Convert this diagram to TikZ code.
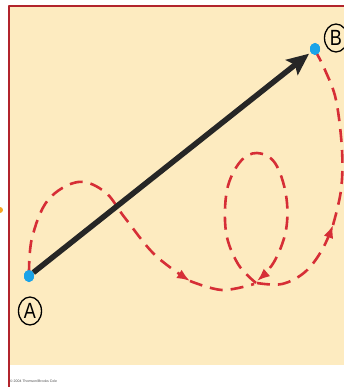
\documentclass[tikz,border=0pt]{standalone}
\usepackage{fontspec}
\setsansfont{Liberation Sans}
\usetikzlibrary{arrows.meta,shapes.geometric}
\definecolor{paper}{RGB}{253,235,192}
\definecolor{frame}{RGB}{178,36,44}
\definecolor{pathred}{RGB}{214,46,54}
\definecolor{dotblue}{RGB}{26,163,232}
\definecolor{speck}{RGB}{245,166,35}

\begin{document}
\begin{tikzpicture}[
    x=1pt,
    y=-1pt,
    line cap=round,
    line join=round,
    font=\sffamily,
    dot/.style={ellipse, fill=dotblue, minimum width=10pt, minimum height=12pt, inner sep=0pt},
    tag/.style={draw=black, line width=1.3pt, ellipse, minimum width=23pt, minimum height=28pt, inner sep=0pt, font=\fontsize{22}{22}\selectfont\sffamily},
    disp/.style={draw=black!85, line width=5.5pt, line cap=butt, -{Stealth[length=22pt,width=19pt,inset=4pt]}},
    route/.style={draw=pathred, line width=2.6pt, line cap=butt, dash pattern=on 13pt off 8pt},
    routetip/.style={route, -{Latex[length=13pt,width=10pt]}},
  ]

  \def\pageW{344}
  \def\pageH{387}
  \def\paperY{365}

  % Page area and clipping
  \path[use as bounding box] (0,0) rectangle (\pageW,\pageH);
  \clip (0,0) rectangle (\pageW,\pageH);
  \fill[white] (0,0) rectangle (\pageW,\pageH);
  \fill[paper] (9,6) rectangle (\pageW,\paperY);
  \draw[frame, line width=1.5pt] (9,\pageH) -- (9,6) -- (\pageW+2,6);
  \fill[speck] (0,210) circle (3);

  % End points
  \node[dot] (dotA) at (29,276) {};
  \node[dot] (dotB) at (315,49) {};
  \node[tag] (tagA) at (30,311) {\scalebox{0.82}[1]{A}};
  \node[tag] (tagB) at (336,38) {\scalebox{0.82}[1]{B}};

  % Dashed path of travel
  \draw[routetip] plot[smooth, tension=0.6] coordinates {(29,274) (32,238) (48,200) (78,182) (105,192) (125,218) (155,255) (190,281)};
  \draw[route] plot[smooth, tension=0.6] coordinates {(190,281) (222,290) (254,284)};
  \draw[routetip] plot[smooth, tension=0.6] coordinates {(256,283) (238,264) (226,232) (227,190) (240,162) (257,153) (275,163) (286,195) (286,230) (274,262) (257,281)};
  \draw[routetip] plot[smooth, tension=0.6] coordinates {(257,283) (282,284) (305,272) (322,250) (333,225)};
  \draw[route] plot[smooth, tension=0.6] coordinates {(333,225) (341,190) (342,150) (336,100) (325,70) (317,54)};

  % Displacement vector
  \draw[disp, shorten >=2pt] (dotA) -- (dotB);
  \node[dot] at (dotA) {};
  \node[dot] at (dotB) {};

  % Credit line
  \node[anchor=west, font=\fontsize{3.5}{4}\selectfont\sffamily, text=black!70, inner sep=0pt] (credit) at (10,381) {\copyright{} 2004 Thomson/Brooks Cole};
\end{tikzpicture}
\end{document}
